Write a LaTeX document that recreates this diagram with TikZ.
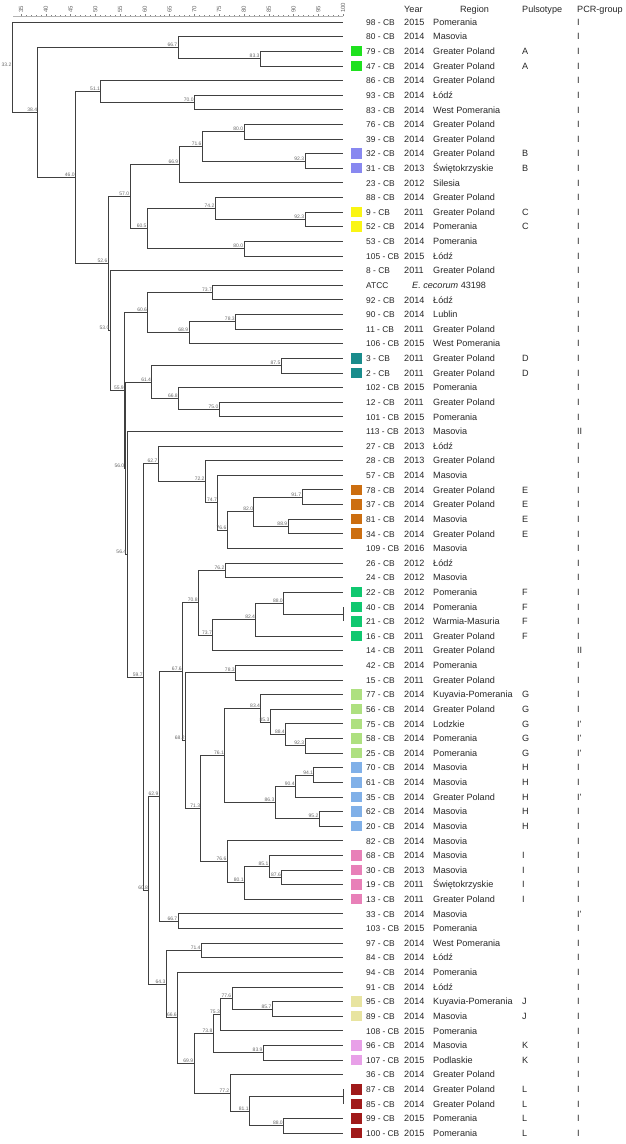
\documentclass[tikz,border=0pt]{standalone}
\usepackage{fontspec}
\setmainfont{Liberation Sans}

\definecolor{pulsA}{RGB}{30,225,30}
\definecolor{pulsB}{RGB}{136,136,240}
\definecolor{pulsC}{RGB}{250,245,20}
\definecolor{pulsD}{RGB}{25,140,140}
\definecolor{pulsE}{RGB}{204,110,16}
\definecolor{pulsF}{RGB}{16,200,112}
\definecolor{pulsG}{RGB}{174,224,128}
\definecolor{pulsH}{RGB}{128,176,232}
\definecolor{pulsI}{RGB}{232,128,184}
\definecolor{pulsJ}{RGB}{232,228,160}
\definecolor{pulsK}{RGB}{232,160,232}
\definecolor{pulsL}{RGB}{160,26,26}

\tikzset{
  branch/.style={draw=black!75, line width=0.7pt},
  simlab/.style={anchor=south east, inner sep=0.6pt, font=\fontsize{5}{5}\selectfont, text=black!60},
  cell/.style={anchor=west, inner sep=0pt, text height=6.6pt, text depth=0pt, font=\fontsize{9.1}{10}\selectfont, text=black!85},
  strain/.style={cell, font=\fontsize{8.4}{10}\selectfont},
  swatch/.style={rectangle, inner sep=0pt, minimum width=11.3pt, minimum height=10.5pt},
  scalelab/.style={rotate=90, anchor=west, inner sep=0pt, font=\fontsize{6}{6}\selectfont, text=black!60},
}

% internal nodes: name/similarity/row/child/child
\def\treelist{j332/33.2/4.096/l1/j384, j384/38.4/7.192/j667a/j460,
  j667a/66.7/2.75/l2/j833, j833/83.3/3.5/l3/l4,
  j460/46.0/11.634/j511/j526, j511/51.1/5.75/l5/j700, j700/70.0/6.5/l6/l7,
  j526/52.6/17.517/j570/j530, j570/57.0/12.9375/j669/j605,
  j669/66.9/10.75/j716/l12, j716/71.6/9.5/j800a/j923a,
  j800a/80.0/8.5/l8/l9, j923a/92.3/10.5/l10/l11,
  j605/60.5/15.125/j742/j800b, j742/74.2/13.75/l13/j923b,
  j923b/92.3/14.5/l14/l15, j800b/80.0/16.5/l16/l17,
  j530/53.0/22.097/l18/j559, j559/55.9/26.194/j606/j560,
  j606/60.6/20.875/j737a/j689, j737a/73.7/19.5/l19/l20,
  j689/68.9/22.25/j783a/l23, j783a/78.3/21.5/l21/l22,
  j560/56.0/31.513/j614/j564, j614/61.4/25.625/j875/j668,
  j875/87.5/24.5/l24/l25, j668/66.8/26.75/l26/j750, j750/75.0/27.5/l27/l28,
  j564/56.4/37.401/l29/j597, j597/59.7/45.802/j627/j608,
  j627/62.7/31.219/l30/j722, j722/72.2/32.4375/l31/j747,
  j747/74.7/33.875/l32/j766a, j766a/76.6/35.75/j820/l37,
  j820/82.0/34.5/j917/j889, j917/91.7/33.5/l33/l34, j889/88.9/35.5/l35/l36,
  j608/60.8/60.386/j629/j643, j629/62.9/53.967/j676/j667b,
  j676/67.6/45.434/j708/j682, j708/70.8/40.719/j762/j737b,
  j762/76.2/38.5/l38/l39, j737b/73.7/42.9375/j824/l44,
  j824/82.4/41.875/j880a/l43, j880a/88.0/40.75/l40/j100a,
  j682/68.2/50.148/j783b/j713, j783b/78.3/45.5/l45/l46,
  j713/71.3/54.797/j761/j766b, j761/76.1/51.156/j834/j863,
  j834/83.4/47.9375/l47/j853, j853/85.3/48.875/l48/j884,
  j884/88.4/49.75/l49/j923c, j923c/92.3/50.5/l50/l51,
  j863/86.3/54.375/j904/j952, j904/90.4/53.25/j941/l54,
  j941/94.1/52.5/l52/l53, j952/95.2/55.5/l55/l56,
  j766b/76.6/58.4375/l57/j801, j801/80.1/59.875/j851/l61,
  j851/85.1/58.75/l58/j870, j870/87.6/59.5/l59/l60,
  j667b/66.7/62.5/l62/l63, j643/64.3/66.805/j714/j666,
  j714/71.4/64.5/l64/l65, j666/66.6/69.109/l66/j699,
  j699/69.9/72.219/j738/j772, j738/73.8/70.1875/j753/j839,
  j753/75.3/68.875/j776/l70, j776/77.6/67.75/l67/j857,
  j857/85.7/68.5/l68/l69, j839/83.9/71.5/l71/l72,
  j772/77.2/74.25/l73/j811, j811/81.1/75.5/j100b/j880b,
  j880b/88.0/76.5/l76/l77}

\begin{document}
\begin{tikzpicture}[x=1pt, y=-1pt,
  declare function={sx(\a)=21+4.954*(\a-35); ry(\a)=7.38+14.62*\a;}]
\useasboundingbox (0,0) rectangle (625,1144);

% similarity scale
\draw[gray!60, line width=0.3pt] (13,16) -- (343,16);
\foreach \t in {35,...,100}
  \draw[gray, line width=0.4pt] ({sx(\t)},16) -- ({sx(\t)},14.8);
\foreach \t in {35,40,...,100} {
  \draw[gray, line width=0.4pt] ({sx(\t)},16) -- ({sx(\t)},13.5);
  \node[scalelab] (sc\t) at ({sx(\t)},13) {\t};
}

% leaves and joins
\foreach \r in {1,...,77}
  \coordinate (l\r) at ({sx(100)},{ry(\r)});
\foreach \n/\v/\y/\a/\b in \treelist
  \coordinate (\n) at ({sx(\v)},{ry(\y)});
\coordinate (j100a) at ({sx(100)},{ry(41.5)});
\coordinate (j100b) at ({sx(100)},{ry(74.5)});

% branches
\foreach \n/\v/\y/\a/\b in \treelist {
  \draw[branch] (\n) |- (\a);
  \draw[branch] (\n) |- (\b);
  \node[simlab] (lab\n) at (\n) {\v};
}
\draw[branch] (j100a) |- (l41);
\draw[branch] (j100a) |- (l42);
\draw[branch] (j100b) |- (l74);
\draw[branch] (j100b) |- (l75);

% header
\node[cell] (hyear) at (404,9) {Year};
\node[cell, anchor=center] (hreg) at (474.5,9) {Region};
\node[cell] (hpuls) at (522,9) {Pulsotype};
\node[cell] (hpcr) at (577,9) {PCR-group};

% isolates
\foreach \r/\s/\yr/\reg/\pcr in {1/98/2015/Pomerania/I, 2/80/2014/Masovia/I,
  3/79/2014/Greater Poland/I, 4/47/2014/Greater Poland/I,
  5/86/2014/Greater Poland/I, 6/93/2014/Łódź/I, 7/83/2014/West Pomerania/I,
  8/76/2014/Greater Poland/I, 9/39/2014/Greater Poland/I,
  10/32/2014/Greater Poland/I, 11/31/2013/Świętokrzyskie/I,
  12/23/2012/Silesia/I, 13/88/2014/Greater Poland/I,
  14/9/2011/Greater Poland/I, 15/52/2014/Pomerania/I, 16/53/2014/Pomerania/I,
  17/105/2015/Łódź/I, 18/8/2011/Greater Poland/I, 20/92/2014/Łódź/I,
  21/90/2014/Lublin/I, 22/11/2011/Greater Poland/I,
  23/106/2015/West Pomerania/I, 24/3/2011/Greater Poland/I,
  25/2/2011/Greater Poland/I, 26/102/2015/Pomerania/I,
  27/12/2011/Greater Poland/I, 28/101/2015/Pomerania/I,
  29/113/2013/Masovia/II, 30/27/2013/Łódź/I, 31/28/2013/Greater Poland/I,
  32/57/2014/Masovia/I, 33/78/2014/Greater Poland/I,
  34/37/2014/Greater Poland/I, 35/81/2014/Masovia/I,
  36/34/2014/Greater Poland/I, 37/109/2016/Masovia/I, 38/26/2012/Łódź/I,
  39/24/2012/Masovia/I, 40/22/2012/Pomerania/I, 41/40/2014/Pomerania/I,
  42/21/2012/Warmia-Masuria/I, 43/16/2011/Greater Poland/I,
  44/14/2011/Greater Poland/II, 45/42/2014/Pomerania/I,
  46/15/2011/Greater Poland/I, 47/77/2014/Kuyavia-Pomerania/I,
  48/56/2014/Greater Poland/I, 49/75/2014/Lodzkie/I', 50/58/2014/Pomerania/I',
  51/25/2014/Pomerania/I', 52/70/2014/Masovia/I, 53/61/2014/Masovia/I,
  54/35/2014/Greater Poland/I', 55/62/2014/Masovia/I, 56/20/2014/Masovia/I,
  57/82/2014/Masovia/I, 58/68/2014/Masovia/I, 59/30/2013/Masovia/I,
  60/19/2011/Świętokrzyskie/I, 61/13/2011/Greater Poland/I,
  62/33/2014/Masovia/I', 63/103/2015/Pomerania/I,
  64/97/2014/West Pomerania/I, 65/84/2014/Łódź/I, 66/94/2014/Pomerania/I,
  67/91/2014/Łódź/I, 68/95/2014/Kuyavia-Pomerania/I, 69/89/2014/Masovia/I,
  70/108/2015/Pomerania/I, 71/96/2014/Masovia/I, 72/107/2015/Podlaskie/I,
  73/36/2014/Greater Poland/I, 74/87/2014/Greater Poland/I,
  75/85/2014/Greater Poland/I, 76/99/2015/Pomerania/I,
  77/100/2015/Pomerania/I} {
  \node[strain] (s\r) at (366,{ry(\r)}) {\s{} - CB};
  \node[cell] (y\r) at (404,{ry(\r)}) {\yr};
  \node[cell] (g\r) at (433,{ry(\r)}) {\reg};
  \node[cell] (p\r) at (577,{ry(\r)}) {\pcr};
}
\node[strain] (s19) at (366,{ry(19)}) {ATCC};
\node[cell] (g19) at (412,{ry(19)}) {\textit{E. cecorum} 43198};
\node[cell] (p19) at (577,{ry(19)}) {I};

% pulsotypes
\foreach \r/\p in {3/A, 4/A, 10/B, 11/B, 14/C, 15/C, 24/D, 25/D,
  33/E, 34/E, 35/E, 36/E, 40/F, 41/F, 42/F, 43/F,
  47/G, 48/G, 49/G, 50/G, 51/G, 52/H, 53/H, 54/H, 55/H, 56/H,
  58/I, 59/I, 60/I, 61/I, 68/J, 69/J, 71/K, 72/K,
  74/L, 75/L, 76/L, 77/L} {
  \node[swatch, fill=puls\p] (q\r) at (356.3,{ry(\r)}) {};
  \node[cell] (pt\r) at (522,{ry(\r)}) {\p};
}
\end{tikzpicture}
\end{document}
